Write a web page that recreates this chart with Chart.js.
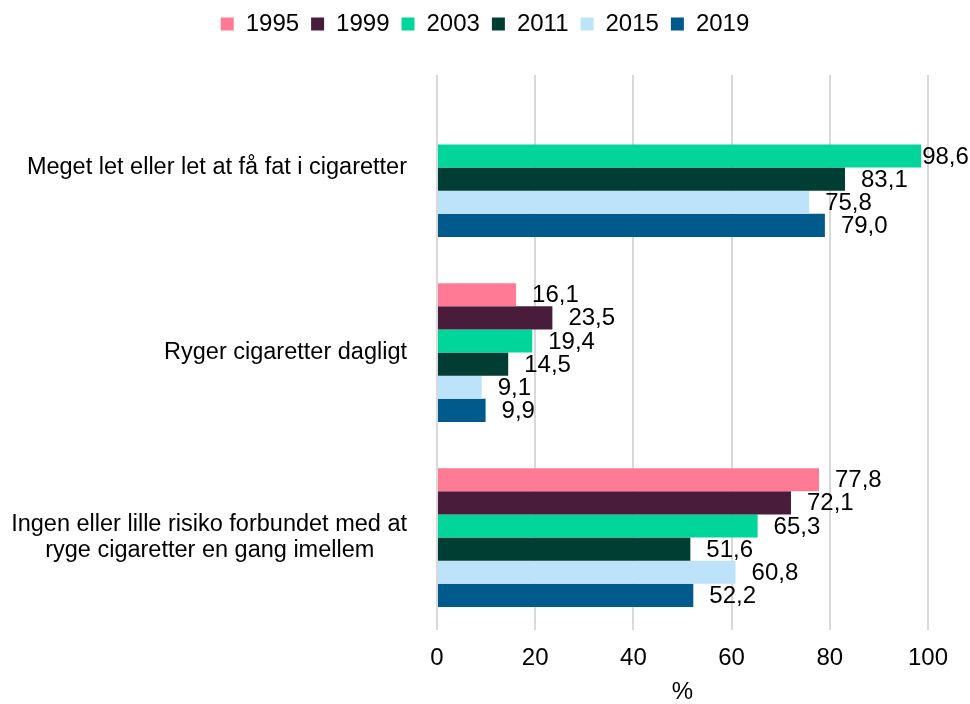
<!DOCTYPE html>
<html>
<head>
<meta charset="utf-8">
<script src="https://cdn.jsdelivr.net/npm/chart.js@4.4.1/dist/chart.umd.min.js"></script>
<style>
    body { margin: 0; background: #fff; }
</style>
</head>
<body>
<canvas id="chart" width="970" height="704"></canvas>
<script>
// chart values
const categories = [
    'Meget let eller let at få fat i cigaretter',
    'Ryger cigaretter dagligt',
    ['Ingen eller lille risiko forbundet med at', 'ryge cigaretter en gang imellem     ']
];
const years = ['1995', '1999', '2003', '2011', '2015', '2019'];
const values1995 = [null, 16.1, 77.8];
const values1999 = [null, 23.5, 72.1];
const values2003 = [98.6, 19.4, 65.3];
const values2011 = [83.1, 14.5, 51.6];
const values2015 = [75.8, 9.1, 60.8];
const values2019 = [79.0, 9.9, 52.2];
const xTicks = [0, 20, 40, 60, 80, 100];

(function(){
    const FONT = "'Liberation Sans', Arial, sans-serif";
    const colors = ['#FF7B95', '#4A1C3C', '#00D69A', '#003E34', '#BDE3FB', '#005A8C'];
    const series = [values1995, values1999, values2003, values2011, values2015, values2019];

    Chart.defaults.font.family = FONT;
    Chart.defaults.color = '#000';

    let datasets = [];
    for (let i = 0; i < years.length; i++) {
        datasets.push({
            label: years[i],
            data: series[i],
            backgroundColor: colors[i],
            borderWidth: 0,
            barPercentage: 1,
            categoryPercentage: 0.75
        });
    }

    // value labels at the end of each bar, danish decimal comma
    const valueLabels = {
        id: 'valueLabels',
        afterDatasetsDraw(chart) {
            const ctx = chart.ctx;
            ctx.save();
            ctx.font = '24px ' + FONT;
            ctx.fillStyle = '#000';
            ctx.textAlign = 'left';
            ctx.textBaseline = 'middle';
            chart.data.datasets.forEach((ds, i) => {
                const meta = chart.getDatasetMeta(i);
                meta.data.forEach((bar, j) => {
                    const v = ds.data[j];
                    if (v === null) return;
                    const txt = v.toFixed(1).replace('.', ',');
                    const w = ctx.measureText(txt).width;
                    let x = bar.x + 16;
                    if (x + w > chart.width) x = bar.x + 1;
                    ctx.fillText(txt, x, bar.y + 1);
                });
            });
            ctx.restore();
        }
    };

    // make the legend band tall enough so the plot starts lower
    const legendHeight = {
        id: 'legendHeight',
        beforeInit(chart) {
            const fit = chart.legend.fit;
            chart.legend.fit = function() {
                fit.call(this);
                this.height = 75;
            };
        }
    };

    const ctx = document.getElementById('chart').getContext('2d');
    new Chart(ctx, {
        type: 'bar',
        data: { labels: categories, datasets: datasets },
        plugins: [valueLabels, legendHeight],
        options: {
            indexAxis: 'y',
            responsive: false,
            animation: false,
            layout: { padding: { top: 0, left: 0, right: 0, bottom: 0 } },
            plugins: {
                legend: {
                    position: 'top',
                    labels: {
                        usePointStyle: true,
                        pointStyle: 'rect',
                        boxWidth: 13,
                        boxHeight: 13,
                        padding: 12,
                        color: '#000',
                        font: { size: 24 }
                    }
                },
                tooltip: { enabled: false }
            },
            scales: {
                x: {
                    min: 0,
                    max: 100,
                    afterBuildTicks(scale) {
                        scale.ticks = xTicks.map(v => ({ value: v }));
                    },
                    ticks: { padding: 14, color: '#000', font: { size: 24 } },
                    grid: { color: '#D9D9D9', lineWidth: 2, drawTicks: false },
                    border: { display: false },
                    title: {
                        display: true,
                        text: '%',
                        color: '#000',
                        font: { size: 24, lineHeight: 1 },
                        padding: { top: 0, bottom: 0 }
                    },
                    afterFit(scale) {
                        scale.height = 74;
                        scale.paddingRight = 42;
                    }
                },
                y: {
                    ticks: { padding: 22, color: '#000', font: { size: 23.5, lineHeight: 1.14 } },
                    grid: { display: false },
                    border: { display: false },
                    afterFit(scale) {
                        scale.width = 437;
                    }
                }
            }
        }
    });
})();
</script>
</body>
</html>
